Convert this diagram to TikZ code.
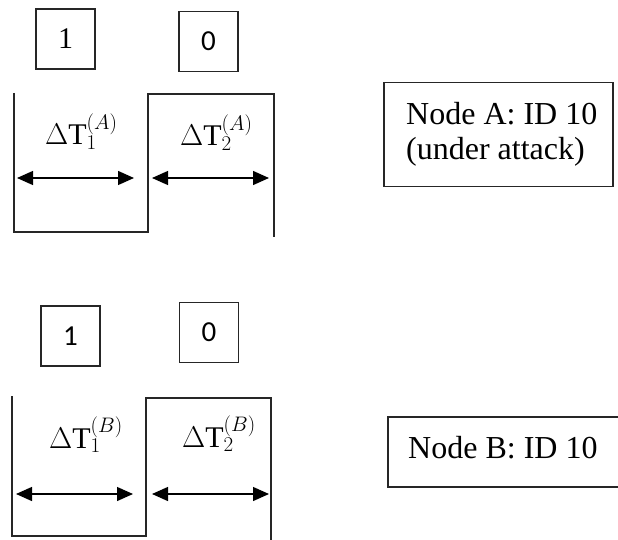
\RequirePackage{fix-cm}
\documentclass[tikz,border=0pt]{standalone}
\usepackage{fontspec}
\setmainfont{Liberation Serif}
\newfontfamily\digitsans{Carlito}
\usetikzlibrary{arrows.meta}
\tikzset{
  frame/.style={line width=1.2pt, draw=black!85},
  bitbox/.style={draw=black!85, line width=1.2pt, minimum width=59pt, minimum height=60pt, inner sep=0pt, font=\fontsize{30}{32}\selectfont},
  sansbit/.style={bitbox, font=\digitsans\fontsize{29}{31}\selectfont},
  span/.style={line width=1.3pt, {Triangle[length=16pt,width=14pt]}-{Triangle[length=16pt,width=14pt]}},
  interval/.style={inner sep=0pt, anchor=base west, font=\fontsize{30}{32}\selectfont},
  nodebox/.style={draw=black!85, line width=1.2pt, inner sep=0pt},
  nodetext/.style={inner sep=0pt, anchor=base west, font=\fontsize{32}{35}\selectfont},
}
\begin{document}
\begin{tikzpicture}[x=1pt, y=-1pt]
\useasboundingbox (0,0) rectangle (618,540);
\clip (0,0) rectangle (618,540);

% ---------- Node A ----------
\node[bitbox] (bA1) at (65.5,39) {1};
\node[sansbit] (bA0) at (208.5,41.5) {0};

\coordinate (a1tl) at (14,93);
\coordinate (a1bl) at (14,232);
\coordinate (a1br) at (148,232);
\coordinate (a2bl) at (148,233);
\coordinate (a2tl) at (148,94);
\coordinate (a2tr) at (274,94);
\coordinate (a2br) at (274,237);
\draw[frame] (a1tl) -- (a1bl) -- (a1br);
\draw[frame] (a2bl) -- (a2tl) -- (a2tr) -- (a2br);

\coordinate (sA1l) at (17,178);
\coordinate (sA1r) at (134,178);
\coordinate (sA2l) at (152,178);
\coordinate (sA2r) at (269,178);
\draw[span] (sA1l) -- (sA1r);
\draw[span] (sA2l) -- (sA2r);

\node[interval] (tA1) at (45,145) {$\Delta\mathrm{T}_1^{(A)}$};
\node[interval] (tA2) at (180,146) {$\Delta\mathrm{T}_2^{(A)}$};

\node[nodebox, minimum width=229pt, minimum height=104pt] (nA) at (498.5,134.5) {};
\node[nodetext] (nAl1) at (406,125) {Node A: ID 10};
\node[nodetext] (nAl2) at (406,160) {(under attack)};

% ---------- Node B ----------
\node[sansbit] (bB1) at (70.5,336) {1};
\node[sansbit] (bB0) at (209,332.5) {0};

\coordinate (b1tl) at (12,396);
\coordinate (b1bl) at (12,536);
\coordinate (b1br) at (146,536);
\coordinate (b2bl) at (146,537);
\coordinate (b2tl) at (146,398);
\coordinate (b2tr) at (271,398);
\coordinate (b2br) at (271,541);
\draw[frame] (b1tl) -- (b1bl) -- (b1br);
\draw[frame] (b2bl) -- (b2tl) -- (b2tr) -- (b2br);

\coordinate (sB1l) at (16,494);
\coordinate (sB1r) at (133,494);
\coordinate (sB2l) at (152,494);
\coordinate (sB2r) at (269,494);
\draw[span] (sB1l) -- (sB1r);
\draw[span] (sB2l) -- (sB2r);

\node[interval] (tB1) at (49,448) {$\Delta\mathrm{T}_1^{(B)}$};
\node[interval] (tB2) at (182,447) {$\Delta\mathrm{T}_2^{(B)}$};

% the right side of this box runs past the page edge
\node[nodebox, minimum width=240pt, minimum height=70pt] (nB) at (508,452) {};
\node[nodetext] (nBt) at (408,458) {Node B: ID 10};
\end{tikzpicture}
\end{document}
